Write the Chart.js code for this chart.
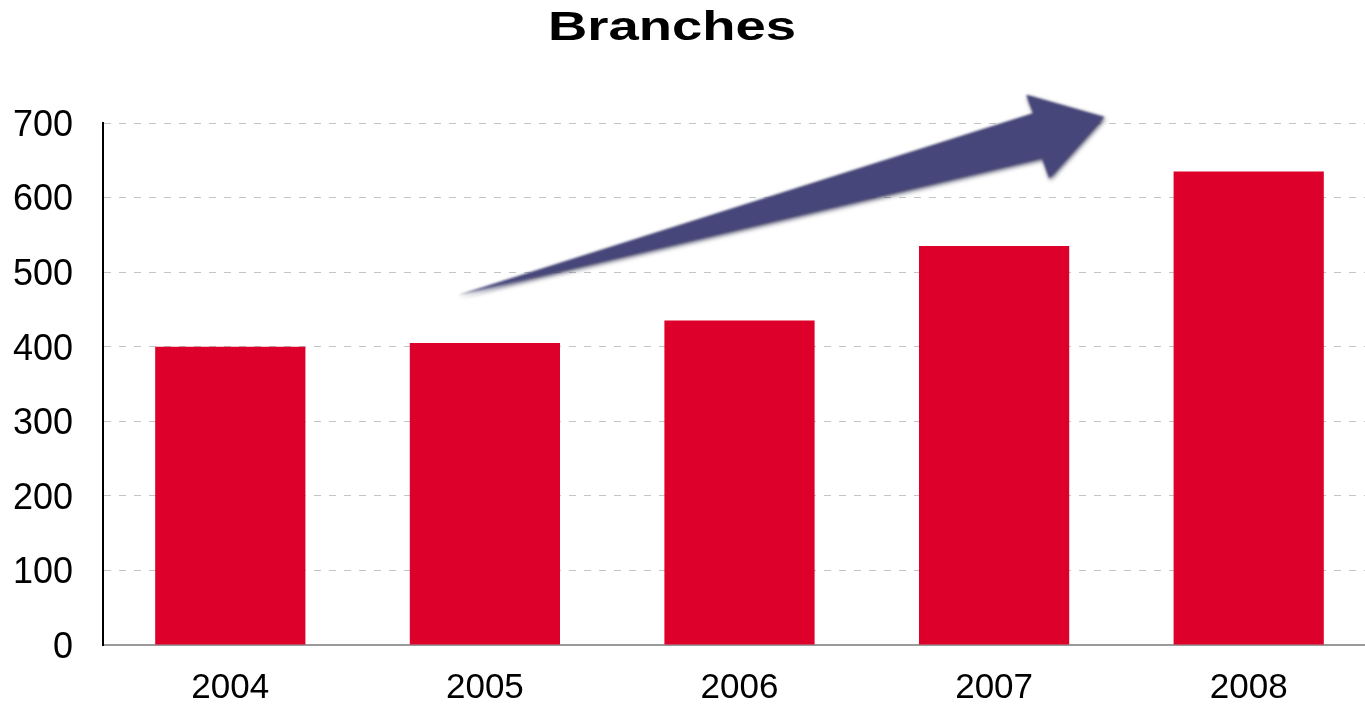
<!DOCTYPE html>
<html lang="en">
<head>
  <meta charset="UTF-8">
  <title>Branches</title>
  <script src="https://cdn.jsdelivr.net/npm/chart.js"></script>
  <style>
    html, body { margin: 0; padding: 0; background: #fff; overflow: hidden; }
    #wrap { position: relative; width: 1376px; height: 708px; }
    #title {
      position: absolute; top: 6px; left: 0; width: 1344px;
      text-align: center; font: bold 40px "Liberation Sans", Arial, sans-serif;
      line-height: 40px; color: #000; z-index: 2;
      transform: scaleX(1.36); transform-origin: 672px 0;
    }
  </style>
</head>
<body>
  <div id="wrap">
    <div id="title">Branches</div>
    <canvas id="branchesChart" width="1376" height="708"></canvas>
  </div>

  <script>
    // years and number of branches
    const years = ['2004', '2005', '2006', '2007', '2008'];
    const branches = [400, 405, 435, 535, 635];
    const yTicks = [0, 100, 200, 300, 400, 500, 600, 700];

    // growth arrow outline, in (category index, value) units
    const arrowX = [0.894, 3.189, 3.217, 3.433, 3.126, 3.154];
    const arrowY = [469, 653, 626, 708, 738, 713];

    const growthArrow = {
      id: 'growthArrow',
      afterDatasetsDraw(chart) {
        const { ctx, scales: { x, y } } = chart;
        ctx.save();
        ctx.beginPath();
        arrowX.forEach((v, i) => {
          const px = x.getPixelForValue(v);
          const py = y.getPixelForValue(arrowY[i]);
          if (i === 0) ctx.moveTo(px, py); else ctx.lineTo(px, py);
        });
        ctx.closePath();
        ctx.shadowColor = 'rgba(20, 20, 60, 0.75)';
        ctx.shadowBlur = 4;
        ctx.shadowOffsetX = 1;
        ctx.shadowOffsetY = 2;
        ctx.filter = 'blur(0.8px)';
        ctx.fillStyle = '#46467a';
        ctx.fill();
        ctx.restore();
      }
    };

    const ctx = document.getElementById('branchesChart').getContext('2d');
    new Chart(ctx, {
      type: 'bar',
      data: {
        labels: years,
        datasets: [{
          label: 'Branches',
          data: branches,
          backgroundColor: '#dc002b',
          categoryPercentage: 1,
          barPercentage: 0.59
        }]
      },
      options: {
        responsive: false,
        animation: false,
        devicePixelRatio: 1,
        layout: { padding: { top: 123, left: 0, right: 0, bottom: 0 } },
        plugins: { legend: { display: false }, tooltip: { enabled: false } },
        scales: {
          x: {
            grid: { display: false, drawTicks: false },
            border: { display: true, color: '#9a9a9a', width: 2 },
            ticks: {
              color: '#000',
              padding: 22,
              font: { family: '"Liberation Sans", Arial, sans-serif', size: 35 }
            },
            afterFit: s => { s.height = 63; }
          },
          y: {
            min: 0,
            max: 700,
            afterBuildTicks: s => { s.ticks = yTicks.map(v => ({ value: v })); },
            grid: { color: '#c4c4c4', lineWidth: 1, drawTicks: false },
            border: { display: true, color: '#000', width: 2, dash: [7, 8] },
            ticks: {
              color: '#000',
              padding: 30,
              labelOffset: 3,
              font: { family: '"Liberation Sans", Arial, sans-serif', size: 36 }
            },
            afterFit: s => { s.width = 103; }
          }
        }
      },
      plugins: [growthArrow]
    });
  </script>
</body>
</html>
